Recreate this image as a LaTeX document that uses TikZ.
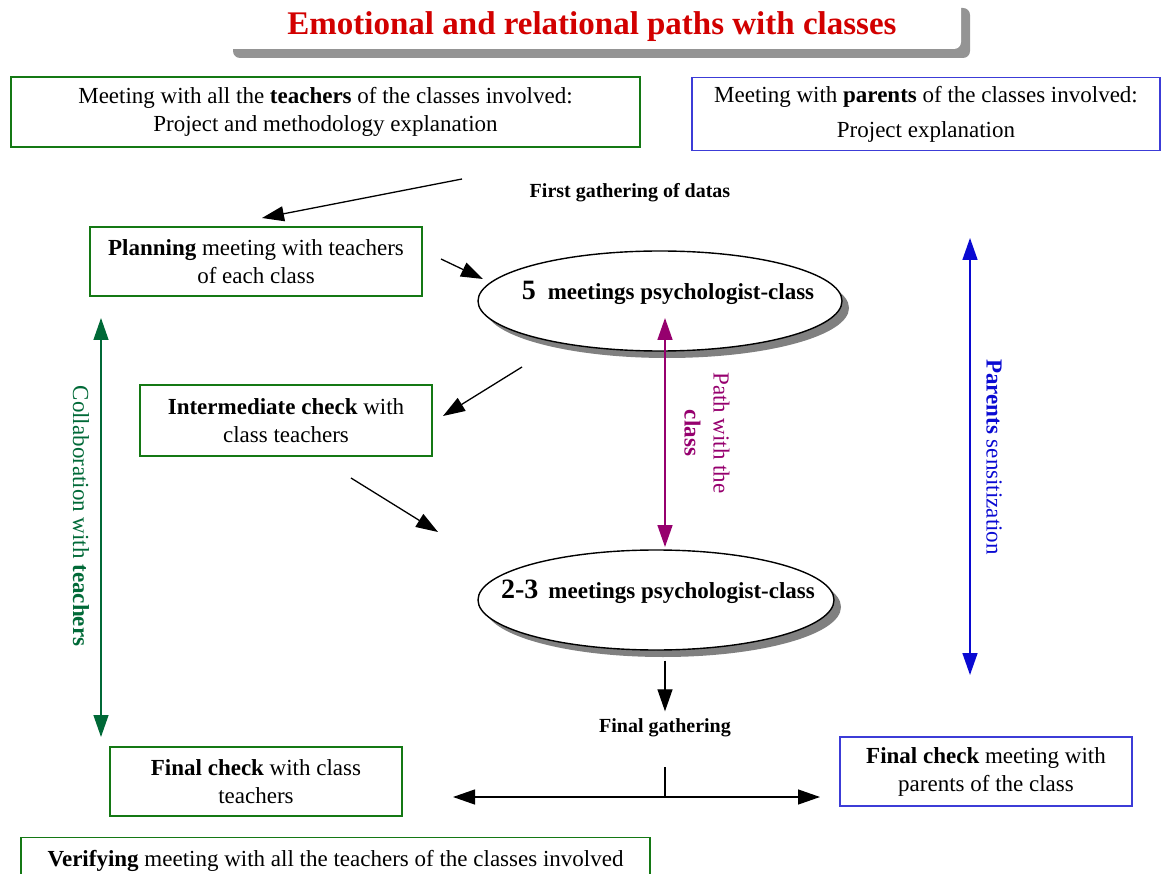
\documentclass[tikz,border=0pt]{standalone}
\usepackage{fontspec}
\setmainfont{Liberation Serif}
\usetikzlibrary{arrows.meta,shapes.geometric,shadows}

\definecolor{boxgreen}{RGB}{20,120,20}
\definecolor{collgreen}{RGB}{0,105,55}
\definecolor{boxblue}{RGB}{60,60,215}
\definecolor{parblue}{RGB}{10,10,210}
\definecolor{pathpurple}{RGB}{150,0,110}
\definecolor{titlered}{RGB}{210,0,0}

\tikzset{
	txt/.style={font=\fontsize{23}{28}\selectfont, align=center},
	greenbox/.style={txt, draw=boxgreen, line width=1.4pt, inner sep=0pt},
	bluebox/.style={txt, draw=boxblue, line width=1.4pt, inner sep=0pt},
	oval/.style={ellipse, draw, line width=1.4pt, fill=white, minimum width=364pt, minimum height=100pt,
		drop shadow={shadow xshift=7pt, shadow yshift=-7pt, fill=black!50, opacity=1}},
	ovaltxt/.style={font=\fontsize{23}{28}\selectfont\bfseries},
	small/.style={font=\fontsize{20}{24}\selectfont\bfseries},
	arr/.style={-{Triangle[length=22pt,width=15pt]}, line width=1.3pt},
	darr/.style={{Triangle[length=22pt,width=15pt]}-{Triangle[length=22pt,width=15pt]}, line width=1.3pt},
}

\begin{document}
\begin{tikzpicture}[x=1pt,y=-1pt]
		\useasboundingbox (0,0) rectangle (1162,874);

		% title banner
		\fill[black!42, rounded corners=7pt] (233,8) rectangle (970,58);
		\fill[white, rounded corners=7pt] (224,0) rectangle (961,49);
		\node[font=\fontsize{33}{40}\selectfont\bfseries, text=titlered] (title) at (592,27) {Emotional and relational paths with classes};

		% boxes
		\node[greenbox, minimum width=629pt, minimum height=70pt] (meetT) at (325.5,112)
			{Meeting with all the \textbf{teachers} of the classes involved:\\Project and methodology explanation};
		\node[bluebox, minimum width=468pt, minimum height=73pt, font=\fontsize{23}{35}\selectfont] (meetP) at (926,114)
			{Meeting with \textbf{parents} of the classes involved:\\Project explanation};
		\node[small] (firstD) at (630,193) {First gathering of datas};
		\node[greenbox, minimum width=332pt, minimum height=69pt] (plan) at (256,261.5)
			{\textbf{Planning} meeting with teachers\\of each class};
		\node[greenbox, minimum width=292pt, minimum height=71pt] (check) at (286,420.5)
			{\textbf{Intermediate check} with\\class teachers};
		\node[greenbox, minimum width=292pt, minimum height=69pt] (finalT) at (256,781.5)
			{\textbf{Final check} with class\\teachers};
		\node[bluebox, minimum width=292pt, minimum height=69pt] (finalP) at (986,771.5)
			{\textbf{Final check} meeting with\\parents of the class};
		\node[greenbox, minimum width=629pt, minimum height=46pt, anchor=north] (verify) at (335.5,837)
			{\textbf{Verifying} meeting with all the teachers of the classes involved};

		% the two class paths
		\node[oval] (five) at (660,301) {};
		\node[ovaltxt] (fiveT) at (668,293) {{\fontsize{28}{28}\selectfont 5}\hspace{12pt}meetings psychologist-class};
		\node[oval, minimum width=356pt] (twothree) at (656,600) {};
		\node[ovaltxt] (twothreeT) at (658,592) {{\fontsize{28}{28}\selectfont 2-3}\hspace{10pt}meetings psychologist-class};
		\node[small] (finalD) at (665,728) {Final gathering};

		% side labels
		\node[txt, text=collgreen, rotate=-90] (collab) at (81,516) {Collaboration with \textbf{teachers}};
		\node[txt, text=pathpurple, rotate=-90, font=\fontsize{23}{29}\selectfont] (pathL) at (707,433) {Path with the\\\textbf{class}};
		\node[txt, text=parblue, rotate=-90] (parL) at (994,457) {\textbf{Parents} sensitization};

		% free ends of the connectors
		\coordinate (a1s) at (462,179);   \coordinate (a1e) at (262,218);
		\coordinate (a2s) at (441,259);   \coordinate (a2e) at (483,279);
		\coordinate (a3s) at (522,367);   \coordinate (a3e) at (443,416);
		\coordinate (a4s) at (351,478);   \coordinate (a4e) at (438,532);
		\coordinate (collT) at (101,318); \coordinate (collB) at (101,737);
		\coordinate (pathT) at (665,318); \coordinate (pathB) at (665,547);
		\coordinate (parT) at (970,238);  \coordinate (parB) at (970,675);
		\coordinate (split) at (665,797);
		\coordinate (splitL) at (453,797); \coordinate (splitR) at (820,797);

		\foreach \s/\e in {a1s/a1e, a2s/a2e, a3s/a3e, a4s/a4e}
			\draw[arr] (\s) -- (\e);
		\draw[darr, collgreen] (collT) -- (collB);
		\draw[darr, pathpurple, line width=1.6pt] (pathT) -- (pathB);
		\draw[darr, parblue, line width=1.6pt] (parT) -- (parB);

		\draw[arr] (finalD.north |- twothree.south) ++(0,10) -- ([yshift=4pt]finalD.north);
		\draw[line width=1.2pt] (split) -- ++(0,-30);
		\draw[darr] (splitL) -- (splitR);
\end{tikzpicture}
\end{document}
